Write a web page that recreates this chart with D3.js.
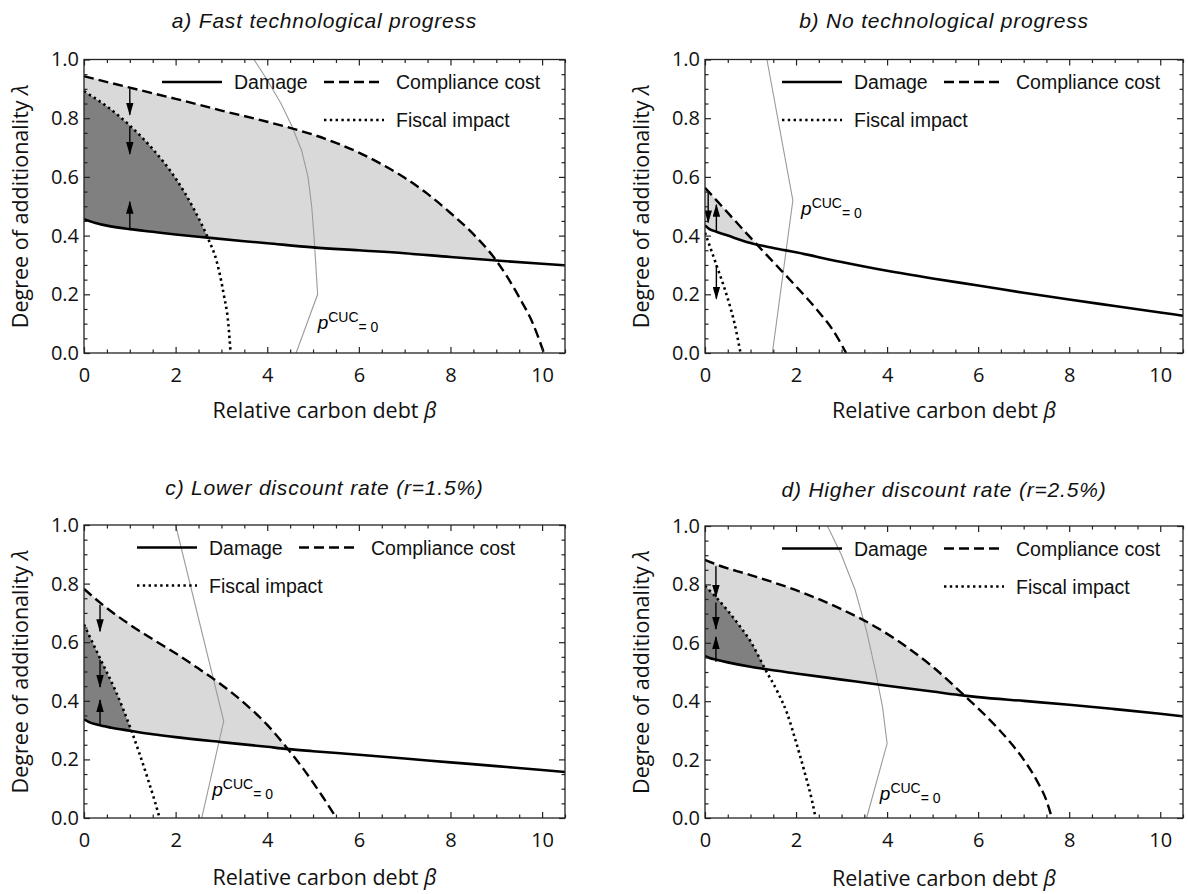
<!DOCTYPE html>
<html><head><meta charset="utf-8">
<script src="https://cdn.jsdelivr.net/npm/d3@7"></script>
<style>body{margin:0;background:#fff} svg{display:block}</style>
</head><body>
<svg id="chart" width="1188" height="894"></svg>
<script>
// ---------- tick values ----------
const xTicks = [0, 2, 4, 6, 8, 10];
const xMinorTicks = [0.5, 1, 1.5, 2.5, 3, 3.5, 4.5, 5, 5.5, 6.5, 7, 7.5, 8.5, 9, 9.5, 10.5];
const yTicks = [0, 0.2, 0.4, 0.6, 0.8, 1.0];
const yMinorTicks = [0.05, 0.1, 0.15, 0.25, 0.3, 0.35, 0.45, 0.5, 0.55, 0.65, 0.7, 0.75, 0.85, 0.9, 0.95];

const legendLabels = ["Damage", "Compliance cost", "Fiscal impact"];
const titles = [
  "a) Fast technological progress",
  "b) No technological progress",
  "c) Lower discount rate (r=1.5%)",
  "d) Higher discount rate (r=2.5%)"
];

// ---------- panel a ----------
const damageA = [[0,0.456],[0.25,0.443],[0.5,0.434],[1,0.422],[1.5,0.413],[2,0.404],[2.7,0.393],[3.5,0.381],[4,0.374],[5,0.36],[6,0.35],[7,0.34],[8,0.327],[9,0.315],[10,0.304],[10.5,0.299]];
const complianceA = [[0,0.943],[1,0.904],[2,0.866],[3,0.826],[4,0.788],[4.5,0.767],[5,0.744],[5.5,0.716],[6,0.683],[6.5,0.643],[7,0.597],[7.5,0.542],[8,0.477],[8.5,0.405],[9,0.315],[9.5,0.19],[9.8,0.1],[10.04,0]];
const fiscalA = [[0,0.892],[0.5,0.84],[1,0.775],[1.5,0.695],[2,0.595],[2.4,0.49],[2.7,0.393],[2.9,0.31],[3.05,0.2],[3.15,0.1],[3.2,0]];
const pcucA = [[3.71,1.0],[4.0,0.93],[4.3,0.85],[4.53,0.776],[4.75,0.69],[4.89,0.6],[4.97,0.5],[5.02,0.4],[5.06,0.3],[5.1,0.2],[4.63,0]];
const arrowsA = [[1,0.9,0.812],[1,0.772,0.678],[1,0.422,0.515]];

// ---------- panel b ----------
const damageB = [[0,0.435],[0.1,0.422],[0.25,0.413],[0.5,0.4],[1,0.375],[1.5,0.358],[2,0.343],[3,0.31],[4,0.28],[5,0.254],[6,0.23],[7,0.205],[8,0.182],[9,0.16],[10,0.138],[10.5,0.127]];
const complianceB = [[0,0.563],[0.5,0.478],[1,0.393],[1.5,0.31],[2,0.227],[2.5,0.14],[2.8,0.08],[3.1,0]];
const fiscalB = [[0,0.41],[0.25,0.3],[0.5,0.185],[0.65,0.1],[0.78,0]];
const pcucB = [[1.36,1.0],[1.93,0.52],[1.48,0]];
const arrowsB = [[0.07,0.55,0.445],[0.25,0.415,0.505],[0.25,0.3,0.185]];

// ---------- panel c ----------
const damageC = [[0,0.337],[0.1,0.328],[0.3,0.318],[0.6,0.308],[1,0.298],[1.5,0.286],[2,0.276],[3,0.259],[4,0.243],[4.4,0.236],[5,0.228],[6,0.216],[7,0.203],[8,0.19],[9,0.177],[10,0.164],[10.5,0.157]];
const complianceC = [[0,0.782],[0.35,0.735],[1,0.66],[1.5,0.61],[2,0.562],[2.5,0.51],[3,0.455],[3.5,0.392],[4,0.318],[4.4,0.245],[4.8,0.165],[5.2,0.075],[5.51,0]];
const fiscalC = [[0,0.66],[0.35,0.545],[0.7,0.43],[1.03,0.3],[1.2,0.225],[1.4,0.13],[1.55,0.055],[1.65,0]];
const pcucC = [[2.0,1.0],[3.05,0.331],[2.57,0]];
const arrowsC = [[0.35,0.728,0.637],[0.35,0.54,0.447],[0.35,0.318,0.403]];

// ---------- panel d ----------
const damageD = [[0,0.555],[0.1,0.548],[0.25,0.542],[0.5,0.533],[1,0.518],[1.32,0.51],[2,0.495],[3,0.474],[4,0.453],[5,0.433],[5.7,0.419],[6,0.414],[7,0.401],[8,0.388],[9,0.373],[10,0.357],[10.5,0.348]];
const complianceD = [[0,0.884],[0.25,0.868],[1,0.832],[2,0.78],[3,0.715],[3.8,0.65],[4.5,0.578],[5,0.518],[5.7,0.419],[6.2,0.345],[6.7,0.26],[7.0,0.2],[7.3,0.125],[7.5,0.06],[7.62,0]];
const fiscalD = [[0,0.795],[0.25,0.755],[0.5,0.71],[0.75,0.66],[1,0.605],[1.32,0.51],[1.6,0.43],[1.8,0.36],[2.0,0.26],[2.2,0.15],[2.35,0.06],[2.43,0]];
const pcucD = [[2.69,1.0],[3.0,0.9],[3.3,0.78],[3.55,0.64],[3.75,0.5],[3.9,0.38],[4.0,0.255],[3.55,0]];
const arrowsD = [[0.24,0.862,0.757],[0.24,0.738,0.647],[0.24,0.535,0.62]];

// ---------- layout (positions only) ----------
const panels = [
  {title:titles[0], left:84, right:565, top:59.5, bottom:353, damage:damageA, comp:complianceA, fiscal:fiscalA, pcuc:pcucA, arrows:arrowsA,
   label:[5.1,0.082], legX:78, fiscalCol:1, titleY:28, xTitleY:418},
  {title:titles[1], left:705, right:1183, top:59.5, bottom:353, damage:damageB, comp:complianceB, fiscal:fiscalB, pcuc:pcucB, arrows:arrowsB,
   label:[2.11,0.47], legX:77, fiscalCol:0, titleY:28, xTitleY:418},
  {title:titles[2], left:84, right:565, top:525, bottom:818, damage:damageC, comp:complianceC, fiscal:fiscalC, pcuc:pcucC, arrows:arrowsC,
   label:[2.8,0.075], legX:53, fiscalCol:0, titleY:495, xTitleY:885},
  {title:titles[3], left:705, right:1183, top:526, bottom:818, damage:damageD, comp:complianceD, fiscal:fiscalD, pcuc:pcucD, arrows:arrowsD,
   label:[3.84,0.062], legX:77, fiscalCol:1, titleY:497, xTitleY:886}
];

const svg = d3.select("#chart");
const defs = svg.append("defs");
defs.append("marker").attr("id","ah").attr("viewBox","0 0 13 7.5").attr("refX",12).attr("refY",3.75)
  .attr("markerWidth",13).attr("markerHeight",7.5).attr("markerUnits","userSpaceOnUse").attr("orient","auto")
  .append("path").attr("d","M0,0 L13,3.75 L0,7.5 Z").attr("fill","#000");

const tickFont = "'Open Sans', sans-serif";
const textFont = "'Liberation Sans', Arial, sans-serif";

const styles = {
  damage: {w:2.6, dash:null},
  comp: {w:2.4, dash:"10,5"},
  fiscal: {w:2.6, dash:"2.4,3.4"}
};

function interp(series, x) {
  if (x < series[0][0] || x > series[series.length-1][0]) return NaN;
  for (let i = 1; i < series.length; i++) {
    const [x0,y0] = series[i-1], [x1,y1] = series[i];
    if (x <= x1) return x1 === x0 ? y1 : y0 + (y1-y0)*(x-x0)/(x1-x0);
  }
  return NaN;
}

// band between an upper and a lower series, from 0 up to where they first cross
function band(upper, lower) {
  const xmax = Math.min(upper[upper.length-1][0], lower[lower.length-1][0]);
  const xs = Array.from(new Set(upper.map(d=>d[0]).concat(lower.map(d=>d[0])))).filter(x=>x<=xmax).sort((a,b)=>a-b);
  const pts = [];
  for (let i = 0; i < xs.length; i++) {
    const x = xs[i], u = interp(upper,x), l = interp(lower,x);
    if (u >= l) { pts.push({x, y0:l, y1:u}); continue; }
    if (i > 0) {
      const xp = xs[i-1], up = interp(upper,xp), lp = interp(lower,xp);
      const dp = up-lp, dc = u-l;
      if (dp > 0) {
        const t = dp/(dp-dc), xc = xp + t*(x-xp), yc = lp + t*(l-lp);
        pts.push({x:xc, y0:yc, y1:yc});
      }
    }
    break;
  }
  return pts;
}

panels.forEach((p, pi) => {
  const x = d3.scaleLinear().domain([0,10.5]).range([p.left, p.right]);
  const y = d3.scaleLinear().domain([0,1]).range([p.bottom, p.top]);
  const g = svg.append("g");
  const clipId = "clip"+pi;
  defs.append("clipPath").attr("id",clipId).append("rect")
    .attr("x",p.left).attr("y",p.top).attr("width",p.right-p.left).attr("height",p.bottom-p.top);

  const plot = g.append("g").attr("clip-path",`url(#${clipId})`);

  const area = d3.area().x(d=>x(d.x)).y0(d=>y(d.y0)).y1(d=>y(d.y1)).curve(d3.curveMonotoneX);
  const light = band(p.comp, p.damage);
  if (light.length > 1) plot.append("path").attr("d", area(light)).attr("fill","#d9d9d9");
  const dark = band(p.fiscal, p.damage);
  if (dark.length > 1) plot.append("path").attr("d", area(dark)).attr("fill","#808080");

  // pCUC = 0 grey line
  plot.append("path").datum(p.pcuc)
    .attr("d", d3.line().x(d=>x(d[0])).y(d=>y(d[1])).curve(d3.curveLinear))
    .attr("fill","none").attr("stroke","#9a9a9a").attr("stroke-width",1.1);

  const line = d3.line().x(d=>x(d[0])).y(d=>y(d[1])).curve(d3.curveMonotoneX);
  [["fiscal",p.fiscal],["comp",p.comp],["damage",p.damage]].forEach(([k,data])=>{
    plot.append("path").datum(data).attr("d", line).attr("fill","none")
      .attr("stroke","#000").attr("stroke-width",styles[k].w)
      .attr("stroke-dasharray",styles[k].dash);
  });

  // arrows
  p.arrows.forEach(a=>{
    plot.append("line").attr("x1",x(a[0])).attr("x2",x(a[0])).attr("y1",y(a[1])).attr("y2",y(a[2]))
      .attr("stroke","#000").attr("stroke-width",1.4).attr("marker-end","url(#ah)");
  });

  // label p^CUC = 0
  const lt = g.append("text").attr("x",x(p.label[0])).attr("y",y(p.label[1]))
    .attr("font-family",textFont).attr("fill","#000");
  lt.append("tspan").text("p").attr("font-style","italic").attr("font-size",19);
  lt.append("tspan").text("CUC").attr("font-size",14).attr("dy",-7);
  lt.append("tspan").text("= 0").attr("font-size",14).attr("dy",10);

  // frame
  g.append("rect").attr("x",p.left).attr("y",p.top).attr("width",p.right-p.left).attr("height",p.bottom-p.top)
    .attr("fill","none").attr("stroke","#222").attr("stroke-width",1.3);

  // axes (ticks pointing inward)
  const fmt = d3.format(".1f");
  g.append("g").attr("transform",`translate(0,${p.bottom})`)
    .call(d3.axisBottom(x).tickValues(xTicks).tickSize(-6).tickPadding(15).tickFormat(d3.format("d")));
  g.append("g").attr("transform",`translate(0,${p.bottom})`)
    .call(d3.axisBottom(x).tickValues(xMinorTicks).tickSize(-3.5).tickFormat(""));
  g.append("g").attr("transform",`translate(0,${p.top})`)
    .call(d3.axisTop(x).tickValues(xTicks).tickSize(-6).tickFormat(""));
  g.append("g").attr("transform",`translate(0,${p.top})`)
    .call(d3.axisTop(x).tickValues(xMinorTicks).tickSize(-3.5).tickFormat(""));
  g.append("g").attr("transform",`translate(${p.left},0)`)
    .call(d3.axisLeft(y).tickValues(yTicks).tickSize(-6).tickPadding(5).tickFormat(fmt));
  g.append("g").attr("transform",`translate(${p.left},0)`)
    .call(d3.axisLeft(y).tickValues(yMinorTicks).tickSize(-3.5).tickFormat(""));
  g.append("g").attr("transform",`translate(${p.right},0)`)
    .call(d3.axisRight(y).tickValues(yTicks).tickSize(-6).tickFormat(""));
  g.append("g").attr("transform",`translate(${p.right},0)`)
    .call(d3.axisRight(y).tickValues(yMinorTicks).tickSize(-3.5).tickFormat(""));
  g.selectAll(".domain").remove();
  g.selectAll(".tick line").attr("stroke","#222").attr("stroke-width",1.2);
  g.selectAll(".tick text").attr("font-family",tickFont).attr("font-size",20).attr("fill","#111");

  // axis titles
  const xt = g.append("text").attr("x",(p.left+p.right)/2).attr("y",p.xTitleY).attr("text-anchor","middle")
    .attr("font-family",tickFont).attr("font-size",21.5).attr("fill","#111");
  xt.append("tspan").text("Relative carbon debt ");
  xt.append("tspan").text("β").attr("font-style","italic");
  const yt = g.append("text").attr("transform",`translate(${p.left-56},${(p.top+p.bottom)/2}) rotate(-90)`)
    .attr("text-anchor","middle").attr("font-family",tickFont).attr("font-size",21.5).attr("fill","#111");
  yt.append("tspan").text("Degree of additionality ");
  yt.append("tspan").text("λ").attr("font-style","italic");

  // title
  g.append("text").attr("x",(p.left+p.right)/2).attr("y",p.titleY).attr("text-anchor","middle")
    .attr("font-family",textFont).attr("font-style","italic").attr("font-size",21).attr("letter-spacing",0.8)
    .attr("fill","#111").text(p.title);

  // legend
  const colX = [p.left+p.legX, p.left+p.legX+162];
  const rowY = [p.top+22.5, p.top+60.5];
  const entries = [
    {k:"damage", label:legendLabels[0], col:0, row:0},
    {k:"comp", label:legendLabels[1], col:1, row:0},
    {k:"fiscal", label:legendLabels[2], col:p.fiscalCol, row:1}
  ];
  entries.forEach(e=>{
    const cx = colX[e.col], cy = rowY[e.row];
    g.append("line").attr("x1",cx).attr("x2",cx+60).attr("y1",cy).attr("y2",cy)
      .attr("stroke","#000").attr("stroke-width",styles[e.k].w).attr("stroke-dasharray",styles[e.k].dash);
    g.append("text").attr("x",cx+72).attr("y",cy+7).attr("font-family",textFont).attr("font-size",19.5)
      .attr("fill","#111").text(e.label);
  });
});
</script>
</body></html>
